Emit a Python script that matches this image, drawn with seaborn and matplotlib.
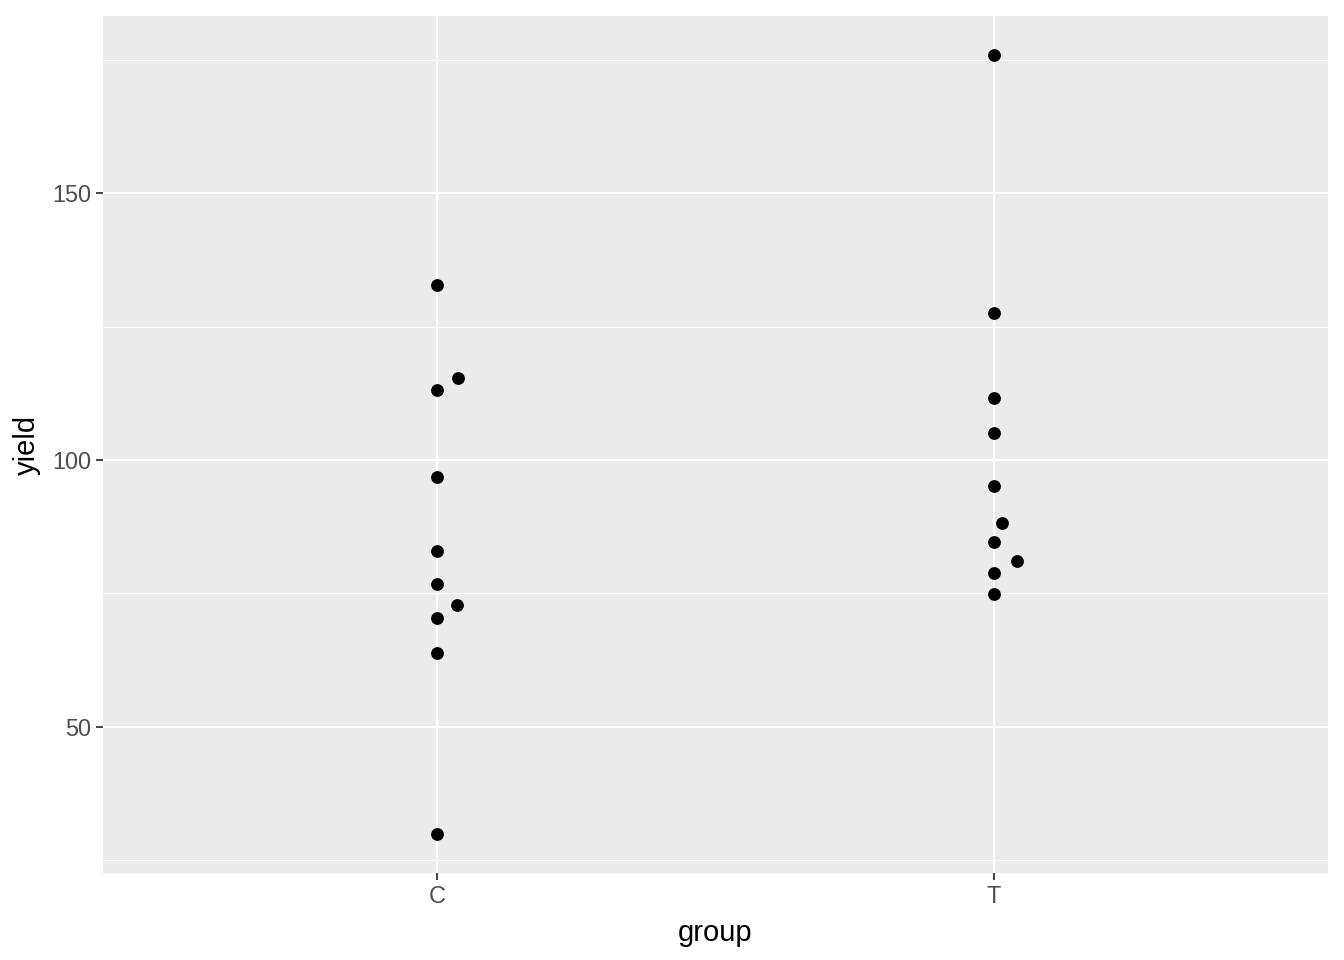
import pandas as pd
import seaborn as sns
import matplotlib
matplotlib.use("Agg")
import matplotlib.pyplot as plt
from matplotlib.ticker import FixedLocator

# data
groups = ["C"] * 10 + ["T"] * 10
yields = [132.7, 113.1, 115.3, 96.8, 83.0, 76.8, 72.9, 70.3, 63.9, 29.9,
          175.9, 127.5, 111.6, 105.0, 95.1, 88.2, 84.7, 81.1, 78.9, 74.8]
# small horizontal shifts of overlapping points (category units)
shifts = [0.0, 0.0, 0.038, 0.0, 0.0, 0.0, 0.036, 0.0, 0.0, 0.0,
          0.0, 0.0, 0.0, 0.0, 0.0, 0.014, 0.0, 0.041, 0.0, 0.0]
categories = ["C", "T"]

df = pd.DataFrame({"group": groups, "yield": yields, "shift": shifts})
df["xpos"] = df["group"].map({c: i + 1 for i, c in enumerate(categories)}) + df["shift"]

sns.set_theme(style="darkgrid")
plt.rcParams["font.family"] = ["Liberation Sans", "DejaVu Sans"]

fig = plt.figure(figsize=(13.44, 9.6), dpi=100)
ax = fig.add_axes([103 / 1344, 1 - 873 / 960, (1328 - 103) / 1344, (873 - 16) / 960])
ax.set_facecolor("#EBEBEB")

sns.scatterplot(data=df, x="xpos", y="yield", ax=ax, color="black",
                s=85, linewidth=0, zorder=3)

ymin, ymax = min(yields), max(yields)
pad = (ymax - ymin) * 0.05
ax.set_ylim(ymin - pad, ymax + pad)
ax.set_xlim(0.4, len(categories) + 0.6)

ax.set_xticks(range(1, len(categories) + 1))
ax.set_xticklabels(categories)
ax.set_yticks([50, 100, 150])
ax.yaxis.set_minor_locator(FixedLocator([25, 75, 125, 175]))

ax.grid(which="major", color="white", linewidth=1.5)
ax.grid(which="minor", axis="y", color="white", linewidth=0.75)
ax.set_axisbelow(True)
for s in ax.spines.values():
    s.set_visible(False)

ax.tick_params(axis="both", which="major", length=5.3, width=1.3, color="#333333",
               labelsize=16.9, labelcolor="#4D4D4D", pad=3, bottom=True, left=True)
ax.tick_params(axis="both", which="minor", length=0)

ax.set_xlabel("group", fontsize=21, color="black", labelpad=8)
ax.set_ylabel("yield", fontsize=21, color="black", labelpad=8)

plt.savefig("out.png", dpi=100)
plt.close()
